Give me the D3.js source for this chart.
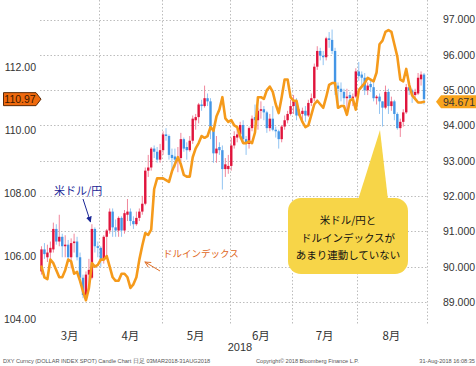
<!DOCTYPE html>
<html><head><meta charset="utf-8">
<script src="https://cdn.jsdelivr.net/npm/d3@7"></script>
<style>html,body{margin:0;padding:0;background:#fff;}svg{display:block;}</style>
</head><body>
<svg id="c" width="476" height="366"></svg>
<script>
// ---------- DATA ----------
const dates = [
"3/5","3/6","3/7","3/8","3/9","3/12","3/13","3/14","3/15","3/16","3/19","3/20","3/21","3/22","3/23","3/26","3/27","3/28","3/29","3/30",
"4/2","4/3","4/4","4/5","4/6","4/9","4/10","4/11","4/12","4/13","4/16","4/17","4/18","4/19","4/20","4/23","4/24","4/25","4/26","4/27","4/30",
"5/1","5/2","5/3","5/4","5/7","5/8","5/9","5/10","5/11","5/14","5/15","5/16","5/17","5/18","5/21","5/22","5/23","5/24","5/25","5/28","5/29","5/30","5/31",
"6/1","6/4","6/5","6/6","6/7","6/8","6/11","6/12","6/13","6/14","6/15","6/18","6/19","6/20","6/21","6/22","6/25","6/26","6/27","6/28","6/29",
"7/2","7/3","7/4","7/5","7/6","7/9","7/10","7/11","7/12","7/13","7/16","7/17","7/18","7/19","7/20","7/23","7/24","7/25","7/26","7/27","7/30","7/31",
"8/1","8/2","8/3","8/6","8/7","8/8","8/9","8/10","8/13","8/14","8/15","8/16","8/17","8/20","8/21","8/22","8/23","8/24","8/27","8/28","8/29","8/30","8/31"];

const jpyOpen = [
105.5,106.2,105.95,106.1,106.2,106.85,106.45,106.6,106.3,106.35,105.95,106.4,106.45,105.95,105.3,104.75,105.4,105.3,106.85,106.3,
106.25,105.9,106.6,106.8,107.4,106.9,106.8,107.2,106.8,107.3,107.4,107.1,107.0,107.2,107.4,107.65,108.7,108.8,109.4,109.3,109.05,
109.35,109.85,109.8,109.2,109.15,109.05,109.1,109.7,109.45,109.35,109.65,110.3,110.4,110.8,110.75,111.0,110.9,110.05,109.25,109.45,109.35,108.75,108.75,
108.85,109.5,109.75,109.85,110.15,109.7,109.55,110.05,110.4,110.3,110.6,110.65,110.55,110.05,110.35,110.0,109.95,109.7,110.1,110.3,110.5,
110.75,110.9,110.45,110.5,110.6,110.45,110.85,111.0,112.0,112.5,112.35,112.3,112.9,112.85,112.5,111.4,111.3,111.2,111.0,111.1,111.0,111.05,
111.85,111.75,111.65,111.25,111.45,111.35,111.0,111.05,110.9,110.7,111.2,110.75,110.9,110.5,110.05,110.25,110.55,111.35,111.25,111.1,111.15,111.6,111.75];
const jpyHigh = [
106.3,106.4,106.35,106.45,107.05,107.0,107.3,106.7,106.65,106.5,106.55,106.7,106.6,106.1,105.4,105.5,105.9,107.0,106.9,106.45,
106.3,106.65,106.85,107.5,107.5,107.15,107.25,107.25,107.45,107.8,107.5,107.25,107.4,107.5,107.9,108.8,109.2,109.45,109.5,109.45,109.55,
109.95,110.05,109.85,109.4,109.4,109.45,109.9,109.75,109.6,109.8,110.45,110.5,110.85,110.95,111.4,111.15,111.0,110.1,109.8,109.6,109.5,109.1,109.2,
109.75,109.95,110.05,110.25,110.3,109.8,110.1,110.45,110.8,110.7,110.9,110.75,110.6,110.5,110.75,110.1,110.0,110.15,110.45,110.6,110.95,
111.1,111.0,110.65,110.7,110.75,110.95,111.15,112.1,112.65,112.6,112.5,112.95,113.1,113.18,112.6,111.5,111.5,111.3,111.3,111.2,111.15,111.95,
112.15,111.85,111.8,111.5,111.55,111.5,111.1,111.15,110.9,111.4,111.3,111.05,110.95,110.55,110.35,110.65,111.45,111.5,111.3,111.3,111.8,111.85,111.8];
const jpyLow = [
105.4,105.9,105.8,105.85,106.1,106.35,106.3,105.95,105.95,105.8,105.6,106.1,105.85,105.2,104.65,104.6,105.0,105.25,106.1,105.95,
105.65,105.75,105.95,106.7,106.6,106.6,106.6,106.6,106.7,107.1,106.95,106.85,106.95,107.1,107.3,107.6,108.5,108.7,109.1,108.95,108.95,
109.2,109.65,109.05,108.65,108.8,108.65,109.0,109.3,109.05,109.3,109.55,110.0,110.2,110.6,110.7,110.75,109.7,108.95,108.95,109.2,108.1,108.5,108.6,
108.7,109.4,109.6,109.7,109.6,109.2,109.4,109.95,110.2,110.0,110.35,110.3,109.9,109.95,109.95,109.75,109.4,109.6,110.0,110.2,110.45,
110.5,110.3,110.4,110.3,110.25,110.4,110.75,110.9,111.9,112.2,112.05,112.2,112.6,112.4,111.1,110.75,110.9,110.8,110.6,110.9,110.75,111.0,
111.55,111.4,111.1,111.1,111.2,110.9,110.8,110.5,110.1,110.65,110.5,110.6,110.3,110.0,109.77,110.1,110.5,111.1,110.85,110.95,111.1,111.4,110.8];
const jpyClose = [
106.2,106.05,106.1,106.25,106.85,106.45,106.6,106.3,106.35,105.95,106.4,106.45,105.95,105.3,104.75,105.4,105.55,106.85,106.3,106.25,
105.9,106.6,106.8,107.4,106.9,106.8,107.2,106.8,107.35,107.4,107.1,107.0,107.2,107.4,107.65,108.7,108.8,109.4,109.3,109.05,109.35,
109.85,109.8,109.2,109.1,109.05,109.1,109.7,109.4,109.35,109.65,110.35,110.4,110.8,110.75,111.0,110.9,110.05,109.25,109.4,109.35,108.75,108.9,108.85,
109.5,109.8,109.85,110.15,109.7,109.55,110.05,110.35,110.3,110.6,110.65,110.55,110.05,110.35,110.0,109.95,109.7,110.1,110.3,110.5,110.75,
110.9,110.45,110.5,110.6,110.45,110.85,111.0,112.0,112.5,112.35,112.3,112.9,112.85,112.5,111.4,111.3,111.2,111.0,111.05,111.0,111.05,111.85,
111.7,111.65,111.25,111.4,111.35,111.0,111.05,110.9,110.7,111.2,110.75,110.9,110.5,110.05,110.25,110.55,111.35,111.25,111.1,111.2,111.65,111.75,110.97];

const dxyClose = [
90.0,89.7,89.65,90.2,90.1,89.9,89.7,89.7,89.9,90.2,90.15,89.8,89.85,89.6,89.3,89.05,89.4,90.1,90.0,90.05,
90.2,90.2,90.3,90.0,89.7,89.6,89.6,89.8,89.8,89.7,89.4,89.5,89.7,90.2,90.6,90.95,90.9,91.05,92.2,92.5,92.5,
92.5,92.45,92.4,92.7,92.9,93.1,92.9,92.6,92.55,92.55,93.1,93.35,93.5,93.7,93.65,93.7,93.95,93.85,94.25,94.45,94.8,94.2,94.1,
94.15,94.0,93.95,93.7,93.5,93.5,93.55,93.5,93.8,94.8,94.8,94.75,95.0,95.1,94.95,94.6,94.35,94.8,95.3,95.3,94.8,
94.7,94.7,94.3,94.1,93.95,94.0,94.3,94.6,94.7,94.6,94.5,94.8,95.15,95.2,95.2,94.5,94.55,94.55,94.3,94.7,94.75,94.45,
95.0,95.1,95.2,95.35,95.3,95.25,95.5,96.3,96.4,96.65,96.7,96.65,96.3,95.95,95.3,95.25,95.6,95.15,94.85,94.75,94.65,94.65,94.671];

const leftTicks = [104, 106, 108, 110, 112];
const rightTicks = [89, 90, 91, 92, 93, 94, 95, 96, 97];
const monthNames = ["3月", "4月", "5月", "6月", "7月", "8月"];
const yearLabel = "2018";
const jpyLast = "110.97";
const dxyLast = "94.671";
const calloutLines = ["米ドル/円と", "ドルインデックスが", "あまり連動していない"];
const jpyName = "米ドル/円";
const dxyName = "ドルインデックス";
const footLeft = "DXY Curncy (DOLLAR INDEX SPOT) Candle Chart  日足 03MAR2018-31AUG2018";
const footMid = "Copyright\u00A9 2018 Bloomberg Finance L.P.";
const footRight = "31-Aug-2018 16:08:35";

// ---------- CHART ----------
const svg = d3.select("#c");
const NUM = "'Liberation Sans', Arial, sans-serif";
const JP = "'Noto Sans CJK JP', sans-serif";
const plotL = 40, plotR = 427, plotT = 0, plotB = 325;

const x = d3.scaleBand().domain(dates).range([40, 425.5]).padding(0);
const bw = x.bandwidth();
const cx = d => x(d) + bw / 2;
const yL = d3.scaleLinear().domain([104, 112]).range([318.7, 66.7]);
const yR = d3.scaleLinear().domain([89, 97]).range([302, 19.5]);

// horizontal grid (right axis ticks)
svg.append("g").selectAll("line").data(rightTicks).join("line")
  .attr("x1", plotL).attr("x2", plotR)
  .attr("y1", d => Math.round(yR(d)) + 0.5).attr("y2", d => Math.round(yR(d)) + 0.5)
  .attr("stroke", "#bdbdbd").attr("stroke-width", 1).attr("stroke-dasharray", "1.5,2");

// month boundaries
const monthOf = d => +d.split("/")[0];
const firstIdx = [];
dates.forEach((d, i) => { if (i === 0 || monthOf(d) !== monthOf(dates[i - 1])) firstIdx.push(i); });
const boundaries = firstIdx.slice(1).map(i => Math.round(x(dates[i])) + 0.5);
boundaries.push(plotR + 0.5);
svg.append("g").selectAll("line").data(boundaries).join("line")
  .attr("x1", d => d).attr("x2", d => d).attr("y1", plotT).attr("y2", plotB)
  .attr("stroke", "#bdbdbd").attr("stroke-width", 1).attr("stroke-dasharray", "1.5,2");

// month labels
const monthCenters = firstIdx.map((s, k) => {
  const e = k + 1 < firstIdx.length ? firstIdx[k + 1] - 1 : dates.length - 1;
  return (x(dates[s]) + x(dates[e]) + bw) / 2;
});
svg.append("g").selectAll("text").data(monthNames).join("text")
  .attr("x", (d, i) => monthCenters[i]).attr("y", 340)
  .attr("text-anchor", "middle").attr("font-family", JP).attr("font-size", 11.5)
  .attr("fill", "#333").text(d => d);
svg.append("text").attr("x", 240).attr("y", 351).attr("text-anchor", "middle")
  .attr("font-family", NUM).attr("font-size", 11).attr("fill", "#333").text(yearLabel);

// candles
const idx = d3.range(dates.length);
const up = i => jpyClose[i] >= jpyOpen[i];
const g = svg.append("g");
g.selectAll("line.w").data(idx).join("line").attr("class", "w")
  .attr("x1", i => cx(dates[i])).attr("x2", i => cx(dates[i]))
  .attr("y1", i => yL(jpyHigh[i])).attr("y2", i => yL(jpyLow[i]))
  .attr("stroke", i => up(i) ? "#f0879c" : "#92c4f2").attr("stroke-width", 1);
g.selectAll("rect").data(idx).join("rect")
  .attr("x", i => cx(dates[i]) - 1.2).attr("width", 2.4)
  .attr("y", i => yL(Math.max(jpyOpen[i], jpyClose[i])))
  .attr("height", i => Math.max(1, Math.abs(yL(jpyOpen[i]) - yL(jpyClose[i]))))
  .attr("fill", i => up(i) ? "#e0143c" : "#4496e6");

// dollar index line
svg.append("path").datum(idx)
  .attr("d", d3.line().x(i => cx(dates[i])).y(i => yR(dxyClose[i])))
  .attr("fill", "none").attr("stroke", "#f59a1b").attr("stroke-width", 2.6)
  .attr("stroke-linejoin", "round").attr("stroke-linecap", "round");

// axes
const axL = svg.append("g").attr("transform", "translate(36,0)")
  .call(d3.axisLeft(yL).tickValues(leftTicks).tickFormat(d3.format(".2f")).tickSize(0).tickPadding(0));
axL.select(".domain").remove();
axL.selectAll("text").attr("font-family", NUM).attr("font-size", 10.5).attr("fill", "#333");
const axR = svg.append("g").attr("transform", `translate(${plotR},0)`)
  .call(d3.axisRight(yR).tickValues(rightTicks).tickFormat(d3.format(".3f")).tickSize(0).tickPadding(16));
axR.select(".domain").remove();
axR.selectAll("text").attr("font-family", NUM).attr("font-size", 10.5).attr("fill", "#333");

// last value tags
const yj = yL(jpyClose[jpyClose.length - 1]);
svg.append("path")
  .attr("d", `M3.5,${yj - 6.5}H36L41,${yj}L36,${yj + 6.5}H3.5Z`)
  .attr("fill", "#f06a0e").attr("stroke", "#5a2a08").attr("stroke-width", 1);
svg.append("text").attr("x", 20).attr("y", yj + 3.8).attr("text-anchor", "middle")
  .attr("font-family", NUM).attr("font-size", 10.5).attr("fill", "#3a1800").text(jpyLast);
const yd = yR(dxyClose[dxyClose.length - 1]);
svg.append("path")
  .attr("d", `M436,${yd}L441,${yd - 6.5}H476V${yd + 6.5}H441Z`)
  .attr("fill", "#f8a41d");
svg.append("text").attr("x", 459).attr("y", yd + 3.8).attr("text-anchor", "middle")
  .attr("font-family", NUM).attr("font-size", 10.5).attr("fill", "#333").text(dxyLast);

// annotations
const defs = svg.append("defs");
defs.append("marker").attr("id", "ah").attr("viewBox", "0 0 10 10").attr("refX", 9).attr("refY", 5)
  .attr("markerWidth", 6).attr("markerHeight", 6).attr("orient", "auto")
  .append("path").attr("d", "M0,0L10,5L0,10Z").attr("fill", "#1a2696");
defs.append("marker").attr("id", "ao").attr("viewBox", "0 0 10 10").attr("refX", 9).attr("refY", 5)
  .attr("markerWidth", 7).attr("markerHeight", 7).attr("orient", "auto")
  .append("path").attr("d", "M1,1L9,5L1,9").attr("fill", "none").attr("stroke", "#e07028").attr("stroke-width", 1.3);

svg.append("text").attr("x", 54).attr("y", 195).attr("font-family", JP).attr("font-size", 11)
  .attr("fill", "#1a2696").text(jpyName);
svg.append("line").attr("x1", 83).attr("y1", 199).attr("x2", 90.5).attr("y2", 222)
  .attr("stroke", "#1a2696").attr("stroke-width", 1).attr("marker-end", "url(#ah)");

svg.append("text").attr("x", 163).attr("y", 257).attr("font-family", JP).attr("font-size", 9.5)
  .attr("fill", "#e0661a").text(dxyName);
svg.append("line").attr("x1", 160).attr("y1", 271).attr("x2", 145).attr("y2", 262)
  .attr("stroke", "#e07028").attr("stroke-width", 1).attr("marker-end", "url(#ao)");

// callout
const co = svg.append("g");
co.append("path").attr("d", "M358,200L380,130L388,200Z").attr("fill", "#f7d548");
co.append("rect").attr("x", 288).attr("y", 198).attr("width", 120).attr("height", 76).attr("rx", 13)
  .attr("fill", "#f7d548");
co.selectAll("text").data(calloutLines).join("text")
  .attr("x", 348).attr("y", (d, i) => 224 + i * 17.5).attr("text-anchor", "middle")
  .attr("font-family", JP).attr("font-size", 10.5).attr("fill", "#111").text(d => d);

// footer
const foot = [[3, "start", footLeft], [256, "start", footMid], [475, "end", footRight]];
svg.append("g").selectAll("text").data(foot).join("text")
  .attr("x", d => d[0]).attr("y", 363).attr("text-anchor", d => d[1])
  .attr("font-family", NUM).attr("font-size", 5.6).attr("fill", "#555").text(d => d[2]);
</script>
</body></html>
